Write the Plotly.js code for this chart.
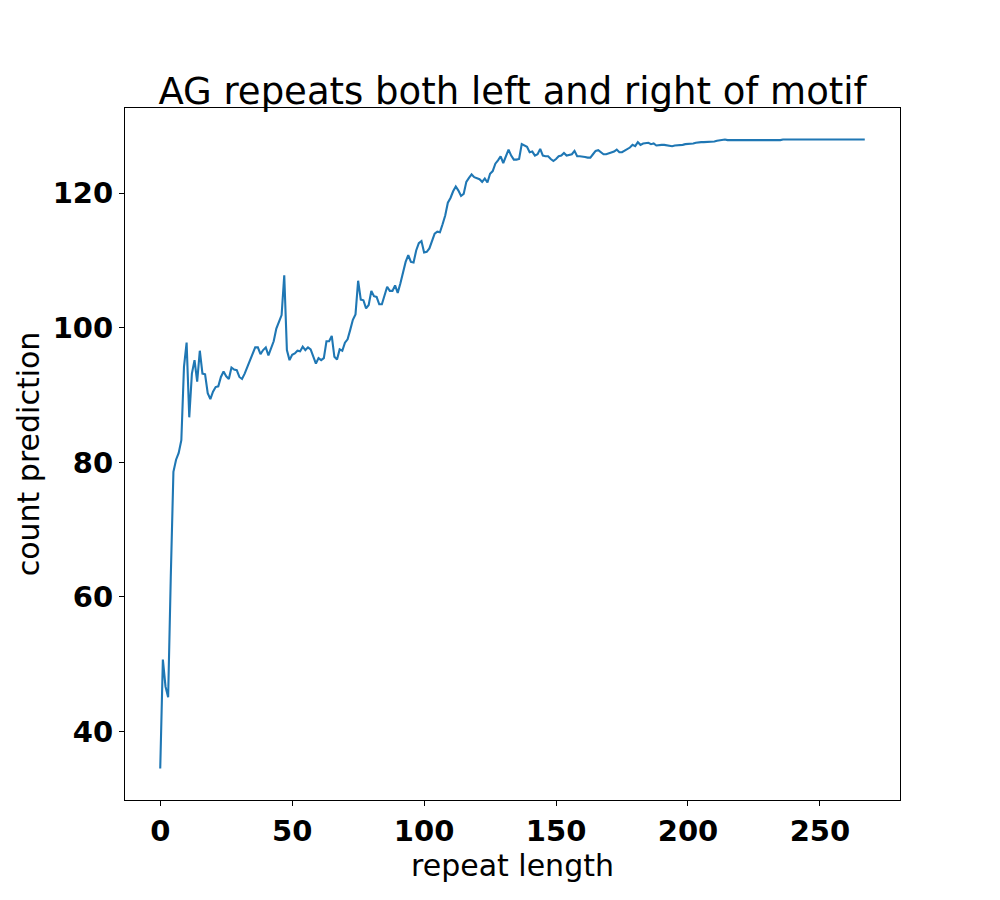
<!DOCTYPE html>
<html>
<head>
<meta charset="utf-8">
<script src="https://cdn.plot.ly/plotly-3.0.1.min.js"></script>
<style>html,body{margin:0;padding:0;background:#fff;}#chart{width:1000px;height:900px;}</style>
</head>
<body>
<div id="chart"></div>
<script>
// repeat length (x) 0..267
const repeatLength = [
0,1,2,3,4,5,6,7,8,9,10,11,12,13,14,15,16,17,18,19,20,21,22,23,24,25,26,27,28,29,
30,31,32,33,34,35,36,37,38,39,40,41,42,43,44,45,46,47,48,49,50,51,52,53,54,55,56,57,58,59,
60,61,62,63,64,65,66,67,68,69,70,71,72,73,74,75,76,77,78,79,80,81,82,83,84,85,86,87,88,89,
90,91,92,93,94,95,96,97,98,99,100,101,102,103,104,105,106,107,108,109,110,111,112,113,114,115,116,117,118,119,
120,121,122,123,124,125,126,127,128,129,130,131,132,133,134,135,136,137,138,139,140,141,142,143,144,145,146,147,148,149,
150,151,152,153,154,155,156,157,158,159,160,161,162,163,164,165,166,167,168,169,170,171,172,173,174,175,176,177,178,179,
180,181,182,183,184,185,186,187,188,189,190,191,192,193,194,195,196,197,198,199,200,201,202,203,204,205,206,207,208,209,
210,211,212,213,214,215,216,217,218,219,220,221,222,223,224,225,226,227,228,229,230,231,232,233,234,235,236,237,238,239,
240,241,242,243,244,245,246,247,248,249,250,251,252,253,254,255,256,257,258,259,260,261,262,263,264,265,266,267
];
// count prediction (y)
const countPrediction = [
34.5,50.7,46.7,45.1,63.0,78.6,80.4,81.4,83.3,94.2,97.8,86.7,93.2,95.2,92.0,96.6,93.2,93.1,90.3,89.4,
90.5,91.2,91.3,92.7,93.5,92.8,92.4,94.1,93.8,93.7,92.7,92.4,93.2,94.2,95.1,96.0,97.1,97.1,96.1,96.7,
97.1,95.9,97.1,98.0,99.9,100.9,101.9,107.8,96.7,95.2,96.0,96.2,96.6,96.5,97.2,96.7,97.1,96.8,95.7,94.7,
95.5,95.2,95.5,98.0,98.0,98.8,95.7,95.3,96.8,96.6,97.8,98.3,99.7,101.2,102.0,107.0,104.2,104.1,102.9,103.4,
105.5,104.7,104.6,103.5,103.5,104.9,106.1,105.5,105.5,106.3,105.2,106.6,108.3,109.8,110.8,109.8,109.7,111.5,112.6,112.9,
111.2,111.3,111.8,113.0,114.0,114.3,114.2,115.4,116.7,118.6,119.3,120.3,121.0,120.4,119.6,119.9,121.7,122.3,122.8,122.4,
122.2,122.1,121.7,122.2,121.6,122.9,123.3,124.4,124.9,125.5,124.5,125.4,126.5,125.6,125.0,125.0,125.1,127.3,127.1,126.9,
126.1,126.2,125.6,125.8,126.6,125.6,125.5,125.5,125.1,124.8,125.1,125.5,125.6,126.0,125.6,125.7,125.8,126.3,125.5,125.5,
125.5,125.4,125.3,125.3,125.8,126.3,126.4,126.1,125.8,125.8,125.9,126.1,126.2,126.5,126.1,126.1,126.3,126.5,126.8,127.2,
127.0,127.6,127.2,127.4,127.4,127.5,127.3,127.4,127.1,127.2,127.2,127.2,127.1,127.0,127.0,127.1,127.1,127.2,127.2,127.3,
127.3,127.4,127.4,127.5,127.6,127.6,127.6,127.6,127.7,127.7,127.7,127.8,127.9,128.0,128.0,127.9,127.9,127.9,127.9,127.8,
127.8,127.8,127.8,127.8,127.8,127.8,127.8,127.85,127.85,127.9,127.9,127.9,127.9,127.9,127.9,127.9,128.0,128.0,128.0,128.0,
128.0,128.0,128.0,128.0,128.0,128.0,128.0,128.0,128.0,128.0,128.0,128.0,128.0,128.0,128.0,128.0,128.0,128.0,128.0,128.0,
128.0,128.0,128.0,128.0,128.0,128.0,128.0,128.0
];
const xTickVals = [0, 50, 100, 150, 200, 250];
const yTickVals = [40, 60, 80, 100, 120];
const titleText = 'AG repeats both left and right of motif';
const xLabel = 'repeat length';
const yLabel = 'count prediction';

const xMin = Math.min(...repeatLength), xMax = Math.max(...repeatLength);
const yMin = Math.min(...countPrediction), yMax = Math.max(...countPrediction);
const xPad = (xMax - xMin) * 0.05, yPad = (yMax - yMin) * 0.05;

const font = 'DejaVu Sans, sans-serif';
const trace = {
  x: repeatLength, y: countPrediction, type: 'scatter', mode: 'lines',
  line: {color: '#1f77b4', width: 2.1}, hoverinfo: 'none'
};
const tickFont = {family: font, size: 29, color: '#000', weight: 'bold'};
const layout = {
  width: 1000, height: 900,
  margin: {l: 125, r: 100, t: 108, b: 100, pad: 0},
  paper_bgcolor: '#fff', plot_bgcolor: '#fff',
  showlegend: false,
  title: {text: titleText, font: {family: font, size: 37, color: '#000'},
          x: 0.5125, xanchor: 'center', y: 1 - 104/900, yanchor: 'bottom', yref: 'container'},
  xaxis: {
    range: [xMin - xPad, xMax + xPad], tickvals: xTickVals,
    showgrid: false, zeroline: false, showline: true, mirror: true,
    linecolor: '#000', linewidth: 1, ticks: 'outside', ticklen: 5, tickwidth: 1, tickcolor: '#000',
    tickfont: tickFont,
    title: {text: xLabel, font: {family: font, size: 30, color: '#000'}, standoff: 6}
  },
  yaxis: {
    range: [yMin - yPad, yMax + yPad], tickvals: yTickVals,
    showgrid: false, zeroline: false, showline: true, mirror: true,
    linecolor: '#000', linewidth: 1, ticks: 'outside', ticklen: 5, tickwidth: 1, tickcolor: '#000',
    tickfont: tickFont,
    title: {text: yLabel, font: {family: font, size: 30, color: '#000'}, standoff: 4}
  }
};
Plotly.newPlot('chart', [trace], layout, {staticPlot: true, displayModeBar: false});
</script>
</body>
</html>
